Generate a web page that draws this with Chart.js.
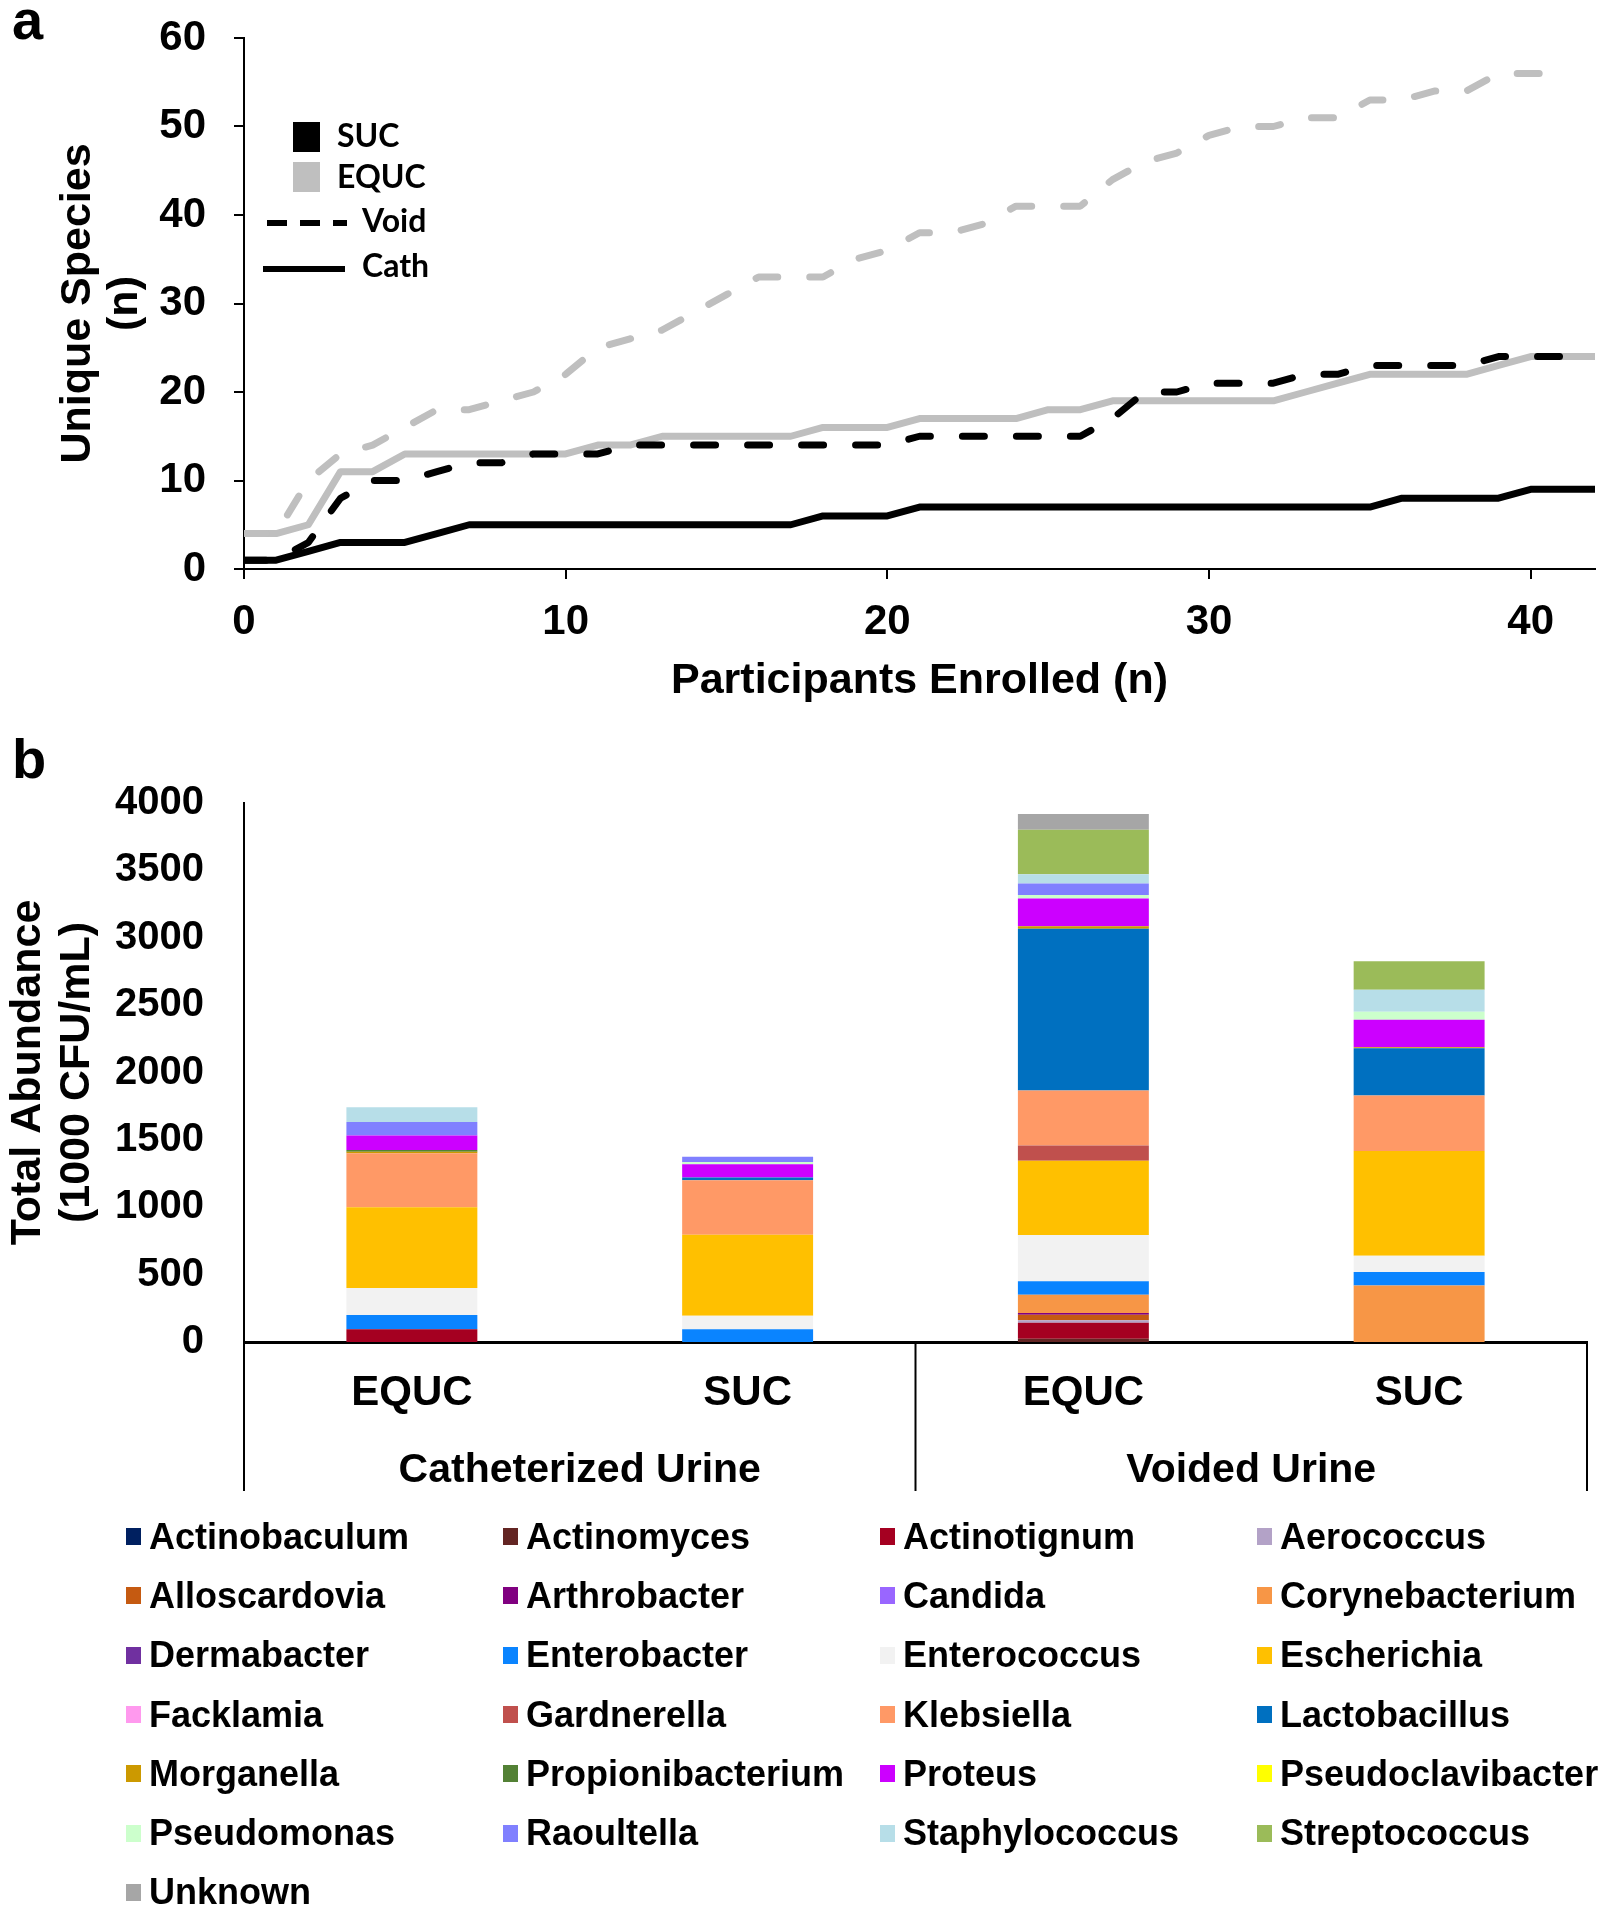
<!DOCTYPE html>
<html>
<head>
<meta charset="utf-8">
<script src="https://cdn.jsdelivr.net/npm/chart.js@4.4.1/dist/chart.umd.min.js"></script>
<style>
  body { margin: 0; background: #fff; }
  #page { position: relative; width: 1613px; height: 1920px; font-family: 'Liberation Sans', Arial, sans-serif; }
  .tag { position: absolute; left: 12px; font-weight: bold; font-size: 56px; line-height: 56px; }
  #chartA { position: absolute; left: 0; top: 0; }
  #chartB { position: absolute; left: 0; top: 720px; }
  #legendB { position: absolute; left: 126px; top: 1507px; display: grid; grid-template-columns: repeat(4, 377px); grid-auto-rows: 59.3px; }
  .item { display: flex; align-items: center; font-weight: bold; font-size: 36px; white-space: nowrap; }
  .sw { width: 15px; height: 17px; margin-right: 8px; flex: none; }
</style>
</head>
<body>
<div id="page">
  <div class="tag" style="top:-8px">a</div>
  <div class="tag" style="top:731px">b</div>
  <canvas id="chartA" width="1613" height="720"></canvas>
  <canvas id="chartB" width="1613" height="790"></canvas>
  <div id="legendB"></div>
</div>
<script>
// ---- panel a : especies acumuladas por participante ----
const participants = [0,1,2,3,4,5,6,7,8,9,10,11,12,13,14,15,16,17,18,19,20,21,22,23,24,25,26,27,28,29,30,31,32,33,34,35,36,37,38,39,40,41,42];
const participantTicks = [0, 10, 20, 30, 40];
const speciesCathSUC  = [1,1,2,3,3,3,4,5,5,5,5,5,5,5,5,5,5,5,6,6,6,7,7,7,7,7,7,7,7,7,7,7,7,7,7,7,8,8,8,8,9,9,9];
const speciesCathEQUC = [4,4,5,11,11,13,13,13,13,13,13,14,14,15,15,15,15,15,16,16,16,17,17,17,17,18,18,19,19,19,19,19,19,20,21,22,22,22,22,23,24,24,24];
const speciesVoidSUC  = [1,1,3,8,10,10,11,12,12,13,13,13,14,14,14,14,14,14,14,14,14,15,15,15,15,15,15,17,20,20,21,21,21,22,22,23,23,23,23,24,24,24];
const speciesVoidEQUC = [4,4,10,13,14,16,18,18,19,20,22,25,26,27,29,31,33,33,33,35,36,38,38,39,41,41,41,44,46,47,49,50,50,51,51,53,53,54,54,56,56,56];
const keyLabels = ['SUC', 'EQUC', 'Void', 'Cath'];

// ---- panel b : abundancia total por genero ----
const sampleGroups = ['EQUC', 'SUC', 'EQUC', 'SUC'];
const urineTypes = ['Catheterized Urine', 'Voided Urine'];
const genera = ['Actinobaculum','Actinomyces','Actinotignum','Aerococcus','Alloscardovia','Arthrobacter','Candida','Corynebacterium',
  'Dermabacter','Enterobacter','Enterococcus','Escherichia','Facklamia','Gardnerella','Klebsiella','Lactobacillus',
  'Morganella','Propionibacterium','Proteus','Pseudoclavibacter','Pseudomonas','Raoultella','Staphylococcus','Streptococcus','Unknown'];
const generaColors = ['#002060','#632523','#a50021','#b3a2c7','#c55a11','#800080','#9966ff','#f79646',
  '#7030a0','#0a84ff','#f2f2f2','#ffc000','#ff99ee','#c0504d','#ff9966','#0070c0',
  '#cc9900','#538135','#cc00ff','#ffff00','#ccffcc','#8080ff','#b7dee8','#9bbb59','#a6a6a6'];
const abundCathEQUC = [0,0,95,0,0,0,0,0,0,105,200,600,0,0,400,0,12,13,107,0,0,100,110,0,0];
const abundCathSUC  = [0,0,0,0,0,0,0,0,0,95,100,600,0,0,405,20,0,0,100,0,15,40,0,0,0];
const abundVoidEQUC = [0,25,118,18,42,13,0,135,0,99,344,552,0,112,409,1200,18,0,206,0,26,86,68,331,117];
const abundVoidSUC  = [0,0,0,0,0,0,0,420,0,100,120,778,0,0,412,350,8,0,203,0,59,0,165,210,0];

const boldFont = size => ({ family: "'Liberation Sans', Arial, sans-serif", size: size, weight: 'bold' });

function puntos(serie) {
  return serie.map((v, i) => ({ x: participants[i], y: v }));
}

// leyenda interna del panel a (cuadros de color y tipos de linea)
const keyPlugin = {
  id: 'keyPlugin',
  afterDraw(chart) {
    const ctx = chart.ctx;
    const x0 = chart.chartArea.left;
    ctx.save();
    ctx.font = "bold 32px Lato, 'Open Sans', sans-serif";
    ctx.textBaseline = 'middle';
    ctx.fillStyle = '#000';
    // cuadros
    ctx.fillRect(x0 + 49, 122, 27, 30);
    ctx.fillStyle = '#bfbfbf';
    ctx.fillRect(x0 + 49, 162, 27, 30);
    ctx.fillStyle = '#000';
    ctx.fillText(keyLabels[0], x0 + 93, 137);
    ctx.fillText(keyLabels[1], x0 + 93, 178);
    // lineas
    ctx.strokeStyle = '#000';
    ctx.lineWidth = 6;
    ctx.setLineDash([20, 13]);
    ctx.beginPath(); ctx.moveTo(x0 + 23, 223); ctx.lineTo(x0 + 103, 223); ctx.stroke();
    ctx.setLineDash([]);
    ctx.beginPath(); ctx.moveTo(x0 + 19, 269); ctx.lineTo(x0 + 101, 269); ctx.stroke();
    ctx.fillText(keyLabels[2], x0 + 118, 222);
    ctx.fillText(keyLabels[3], x0 + 118, 267);
    ctx.restore();
  }
};

new Chart(document.getElementById('chartA'), {
  type: 'line',
  data: {
    datasets: [
      { label: 'Void SUC', data: puntos(speciesVoidSUC), borderColor: '#000', borderDash: [22, 32], borderCapStyle: 'round' },
      { label: 'Cath SUC', data: puntos(speciesCathSUC), borderColor: '#000' },
      { label: 'Void EQUC', data: puntos(speciesVoidEQUC), borderColor: '#bfbfbf', borderDash: [22, 32], borderCapStyle: 'round' },
      { label: 'Cath EQUC', data: puntos(speciesCathEQUC), borderColor: '#bfbfbf' }
    ]
  },
  options: {
    responsive: false,
    animation: false,
    layout: { padding: { top: 38, right: 18, left: 0, bottom: 0 } },
    elements: { point: { radius: 0 }, line: { tension: 0, borderWidth: 7, borderJoinStyle: 'round' } },
    plugins: { legend: { display: false }, tooltip: { enabled: false } },
    scales: {
      x: {
        type: 'linear', min: 0, max: 42,
        afterBuildTicks(s) { s.ticks = participantTicks.map(v => ({ value: v })); },
        ticks: { color: '#000', font: boldFont(42), padding: 18, maxRotation: 0, autoSkip: false },
        grid: { drawOnChartArea: false, tickLength: 10, color: '#000', lineWidth: 2 },
        border: { color: '#000', width: 2 },
        title: { display: true, text: 'Participants Enrolled (n)', color: '#000', font: boldFont(43), padding: { top: 0, bottom: 13 } },
        afterFit(s) { s.height = 151; }
      },
      y: {
        min: 0, max: 60,
        ticks: { stepSize: 10, color: '#000', font: boldFont(42), padding: 28 },
        grid: { drawOnChartArea: false, tickLength: 10, color: '#000', lineWidth: 2 },
        border: { color: '#000', width: 2 },
        title: { display: true, text: ['Unique Species', '(n)'], color: '#000', font: { family: "'Liberation Sans', Arial, sans-serif", size: 43, weight: 'bold', lineHeight: 1.1 }, padding: { top: 54, bottom: 0 } },
        afterFit(s) { s.width = 244; s.paddingTop = 0; s.paddingBottom = 0; }
      }
    }
  },
  plugins: [keyPlugin]
});

// lineas separadoras de los grupos de orina
const groupLines = {
  id: 'groupLines',
  afterDraw(chart) {
    const x = chart.scales.x;
    const g = chart.scales.xg;
    const ctx = chart.ctx;
    const mid = (x.getPixelForValue(1) + x.getPixelForValue(2)) / 2;
    ctx.save();
    ctx.strokeStyle = '#000';
    ctx.lineWidth = 2;
    [x.left, mid, x.right].forEach(px => {
      ctx.beginPath();
      ctx.moveTo(px, x.top);
      ctx.lineTo(px, g.bottom - 19);
      ctx.stroke();
    });
    ctx.restore();
  }
};

const datasetsB = genera.map((g, i) => ({
  label: g,
  data: [abundCathEQUC[i], abundCathSUC[i], abundVoidEQUC[i], abundVoidSUC[i]],
  backgroundColor: generaColors[i],
  borderWidth: 0,
  barPercentage: 0.39,
  categoryPercentage: 1,
  xAxisID: 'x'
}));

new Chart(document.getElementById('chartB'), {
  type: 'bar',
  data: { labels: sampleGroups, datasets: datasetsB },
  options: {
    responsive: false,
    animation: false,
    layout: { padding: { top: 83, right: 26, left: 0, bottom: 0 } },
    plugins: { legend: { display: false }, tooltip: { enabled: false } },
    scales: {
      x: {
        stacked: true,
        grid: { display: false, drawTicks: false },
        border: { color: '#000', width: 3 },
        ticks: { color: '#000', font: boldFont(42), padding: 26 },
        afterFit(s) { s.height = 96; }
      },
      xg: {
        type: 'category', position: 'bottom', labels: urineTypes, offset: true,
        grid: { display: false, drawTicks: false },
        border: { display: false },
        ticks: { color: '#000', font: boldFont(41), padding: 8 },
        afterFit(s) { s.height = 72; }
      },
      y: {
        stacked: true, min: 0, max: 4000,
        ticks: { stepSize: 500, color: '#000', font: boldFont(40), padding: 40, callback: v => String(v) },
        grid: { display: false, drawTicks: false },
        border: { color: '#000', width: 2 },
        title: { display: true, text: ['Total Abundance', '(1000 CFU/mL)'], color: '#000', font: { family: "'Liberation Sans', Arial, sans-serif", size: 43, weight: 'bold', lineHeight: 1.15 }, padding: { top: 3, bottom: 0 } },
        afterFit(s) { s.width = 244; }
      }
    }
  },
  plugins: [groupLines]
});

// leyenda de generos en cuadricula de 4 columnas
const legendB = document.getElementById('legendB');
genera.forEach((g, i) => {
  const item = document.createElement('div');
  item.className = 'item';
  item.innerHTML = `<span class="sw" style="background:${generaColors[i]}"></span>${g}`;
  legendB.appendChild(item);
});
</script>
</body>
</html>
